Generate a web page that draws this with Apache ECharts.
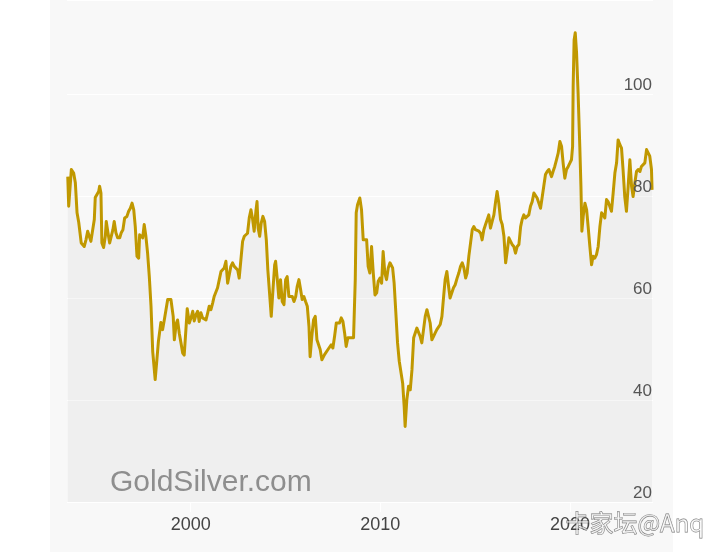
<!DOCTYPE html>
<html><head><meta charset="utf-8">
<script src="https://cdn.jsdelivr.net/npm/echarts@6/dist/echarts.min.js"></script>
<style>
html,body{margin:0;padding:0;background:#fff;width:720px;height:552px;overflow:hidden}
#band{position:absolute;left:50px;top:0;width:623px;height:552px;background:#f8f8f8}
#chart{position:absolute;left:0;top:0;width:720px;height:552px}
</style></head>
<body><div id="band"></div><div id="chart"></div>
<script>
// Gold/Silver ratio, decimal year vs ratio
const years = [1993.52,1993.57,1993.71,1993.83,1993.92,1994.01,1994.10,1994.23,1994.31,1994.39,1994.48,1994.57,1994.65,1994.74,1994.83,1994.92,1994.97,1995.06,1995.15,1995.20,1995.27,1995.32,1995.41,1995.50,1995.55,1995.64,1995.73,1995.81,1995.90,1995.97,1996.06,1996.15,1996.26,1996.34,1996.43,1996.52,1996.64,1996.73,1996.82,1996.91,1997.00,1997.08,1997.17,1997.26,1997.31,1997.40,1997.47,1997.55,1997.64,1997.73,1997.82,1997.91,1998.00,1998.05,1998.13,1998.22,1998.30,1998.43,1998.52,1998.61,1998.70,1998.79,1998.96,1999.08,1999.14,1999.24,1999.31,1999.40,1999.49,1999.58,1999.66,1999.75,1999.82,1999.93,2000.02,2000.11,2000.19,2000.28,2000.37,2000.45,2000.54,2000.63,2000.72,2000.81,2000.90,2000.98,2001.07,2001.16,2001.24,2001.33,2001.42,2001.51,2001.60,2001.69,2001.77,2001.86,2001.95,2002.03,2002.12,2002.21,2002.30,2002.39,2002.48,2002.56,2002.65,2002.74,2002.83,2002.92,2003.00,2003.09,2003.18,2003.27,2003.35,2003.44,2003.50,2003.56,2003.64,2003.72,2003.81,2003.90,2003.99,2004.07,2004.16,2004.25,2004.34,2004.43,2004.48,2004.57,2004.65,2004.74,2004.83,2004.92,2005.01,2005.09,2005.18,2005.27,2005.36,2005.45,2005.54,2005.62,2005.71,2005.80,2005.88,2005.97,2006.06,2006.15,2006.24,2006.30,2006.39,2006.48,2006.57,2006.66,2006.75,2006.83,2006.92,2007.01,2007.06,2007.15,2007.24,2007.33,2007.41,2007.50,2007.59,2007.68,2007.77,2007.85,2007.94,2008.03,2008.12,2008.20,2008.29,2008.38,2008.47,2008.59,2008.68,2008.73,2008.80,2008.92,2009.01,2009.10,2009.19,2009.28,2009.36,2009.45,2009.54,2009.63,2009.72,2009.81,2009.89,2009.98,2010.07,2010.15,2010.24,2010.33,2010.42,2010.51,2010.65,2010.73,2010.82,2010.91,2011.00,2011.09,2011.18,2011.26,2011.31,2011.40,2011.49,2011.58,2011.67,2011.76,2011.84,2011.93,2012.02,2012.10,2012.19,2012.28,2012.37,2012.46,2012.55,2012.63,2012.72,2012.81,2012.89,2012.98,2013.07,2013.16,2013.25,2013.34,2013.42,2013.51,2013.60,2013.68,2013.77,2013.86,2013.95,2014.05,2014.14,2014.23,2014.32,2014.41,2014.50,2014.58,2014.67,2014.76,2014.85,2014.93,2015.02,2015.11,2015.20,2015.29,2015.37,2015.46,2015.55,2015.64,2015.72,2015.81,2015.90,2015.99,2016.08,2016.16,2016.25,2016.34,2016.43,2016.52,2016.61,2016.69,2016.78,2016.87,2016.95,2017.04,2017.13,2017.22,2017.31,2017.40,2017.48,2017.57,2017.66,2017.74,2017.83,2017.92,2018.01,2018.10,2018.19,2018.27,2018.36,2018.45,2018.53,2018.62,2018.71,2018.80,2018.89,2019.03,2019.11,2019.20,2019.29,2019.38,2019.47,2019.56,2019.64,2019.73,2019.82,2019.91,2020.00,2020.08,2020.14,2020.17,2020.22,2020.28,2020.35,2020.43,2020.52,2020.58,2020.63,2020.70,2020.79,2020.88,2020.96,2021.05,2021.14,2021.22,2021.31,2021.40,2021.49,2021.58,2021.67,2021.75,2021.84,2021.93,2022.01,2022.10,2022.19,2022.28,2022.37,2022.46,2022.54,2022.63,2022.72,2022.80,2022.89,2022.98,2023.07,2023.16,2023.25,2023.33,2023.42,2023.51,2023.60,2023.69,2023.77,2023.86,2023.95,2024.04,2024.12,2024.21,2024.30,2024.33];
const ratio = [83.8,78.0,85.2,84.5,82.6,76.7,74.8,70.8,70.5,70.1,71.4,73.1,73.4,71.1,71.4,75.4,79.7,79.7,80.9,81.9,80.6,70.8,69.9,72.1,75.0,72.8,70.8,71.1,73.4,75.0,72.8,71.8,71.8,72.8,73.4,75.7,76.0,77.0,77.6,78.6,77.3,74.0,68.2,67.8,72.4,72.4,71.8,74.4,72.1,68.8,64.2,58.4,49.5,49.3,44.0,47.9,51.5,55.2,53.8,55.7,57.7,59.7,59.7,56.4,51.8,55.0,55.7,53.1,51.2,49.2,48.8,53.8,57.9,55.1,56.1,57.4,55.5,56.7,57.4,55.4,57.1,56.1,56.4,55.7,57.1,58.4,57.7,59.0,60.3,60.6,62.0,63.6,65.2,65.2,65.9,67.2,62.9,62.9,66.2,66.9,66.2,66.5,65.5,63.9,67.5,71.1,72.1,71.8,72.7,75.7,77.3,75.4,73.1,77.0,78.9,73.7,72.1,74.7,76.0,75.0,71.4,65.5,61.0,56.4,61.6,66.5,67.2,63.6,60.0,63.6,59.3,58.7,63.6,64.2,60.3,60.6,60.3,59.3,60.3,62.3,63.6,61.6,59.7,60.3,59.3,58.4,54.4,48.5,52.5,55.7,56.4,51.8,51.5,49.9,47.9,47.6,48.9,49.2,49.9,50.2,50.8,50.2,52.5,55.1,55.4,55.1,56.1,55.4,53.1,50.5,52.2,52.5,52.2,52.2,63.6,76.7,78.3,79.6,77.3,71.4,71.1,71.4,66.2,64.9,70.1,64.9,60.6,61.0,63.3,63.9,62.9,69.1,64.9,63.6,65.9,66.9,65.9,62.9,57.1,51.2,47.6,47.3,43.3,38.7,34.8,40.1,42.7,42.0,45.9,52.2,52.2,54.1,54.4,52.5,51.2,53.8,56.4,57.7,58.0,55.1,51.8,52.5,53.1,53.8,54.1,54.8,56.4,60.3,63.6,65.2,62.3,60.0,60.3,62.0,62.6,63.9,64.9,66.2,66.9,65.9,63.9,64.9,68.2,70.8,73.4,74.0,73.4,73.1,73.1,72.7,71.4,73.4,74.4,75.4,76.3,73.7,75.0,76.3,78.9,80.9,78.6,75.4,74.4,72.1,66.9,69.1,71.8,71.1,70.5,70.1,68.8,70.1,70.5,74.0,75.4,76.3,75.7,75.9,76.3,78.0,78.9,80.6,80.6,79.6,78.6,77.6,79.6,81.9,84.2,84.8,85.2,83.8,84.8,85.8,87.1,88.4,90.7,89.7,86.5,83.5,85.2,85.8,86.5,87.1,89.7,101.5,110.6,112.0,108.0,100.2,89.7,81.9,73.1,76.0,78.6,77.3,74.0,70.1,66.5,68.2,67.8,68.5,70.1,74.0,76.7,76.3,75.7,79.3,78.9,78.0,77.0,80.6,84.5,86.5,91.0,90.1,89.4,85.2,79.9,77.0,81.9,87.1,81.9,79.9,82.5,84.8,85.2,84.8,85.8,85.8,86.5,89.1,89.4,87.8,85.2,81.2];
const xTickLabels = [2000, 2010, 2020];
const yTickLabels = [20, 40, 60, 80, 100];

const chart = echarts.init(document.getElementById('chart'), null, {renderer: 'canvas'});
const seriesData = years.map((y, i) => [y, ratio[i]]);
const FONT = 'Liberation Sans, Arial, Helvetica, sans-serif';

chart.setOption({
  animation: false,
  backgroundColor: 'transparent',
  grid: {left: 67, right: 67, top: 0, bottom: 50, show: true, backgroundColor: '#f8f8f8', borderWidth: 0, containLabel: false},
  xAxis: {
    type: 'value', min: 1993.48, max: 2024.38,
    axisLine: {show: false},
    splitLine: {show: false},
    axisTick: {show: true, customValues: xTickLabels, length: 10, lineStyle: {color: '#ffffff', width: 1}},
    axisLabel: {customValues: xTickLabels, formatter: v => String(v), fontSize: 18, color: '#444', fontFamily: FONT, margin: 14}
  },
  yAxis: [
    {type: 'value', position: 'right', min: 20, max: 118.43, interval: 20,
     axisLine: {show: false}, axisTick: {show: false}, axisLabel: {show: false},
     splitLine: {show: true, lineStyle: {color: '#ffffff', width: 1}}},
    {type: 'value', position: 'right', min: 20, max: 118.43, interval: 20, z: 10,
     axisLine: {show: false}, axisTick: {show: false}, splitLine: {show: false},
     axisLabel: {inside: true, margin: 1, verticalAlign: 'bottom', fontSize: 17, color: '#555', fontFamily: FONT,
       showMaxLabel: false,
       formatter: v => yTickLabels.includes(v) ? String(v) : ''}}
  ],
  series: [{
    type: 'line', yAxisIndex: 0, data: seriesData, showSymbol: false, symbol: 'none',
    lineStyle: {color: '#c09800', width: 3, join: 'round'},
    areaStyle: {color: 'rgba(0,0,0,0.05)', origin: 'start'}
  }],
  graphic: [
    {type: 'text', left: 110, top: 467.5, z: 20,
     style: {text: 'GoldSilver.com', fontSize: 30, fontFamily: FONT, fill: '#8e8e8e', verticalAlign: 'middle'}},
    {type: 'text', left: 565, top: 510, z: 20,
     style: {text: '卡家坛@Anq', fontSize: 24, fontFamily: 'Noto Sans CJK SC, sans-serif', fill: 'rgba(255,255,255,0.55)', stroke: 'rgba(70,70,70,0.75)', lineWidth: 0.8}}
  ]
});
</script>
</body></html>
